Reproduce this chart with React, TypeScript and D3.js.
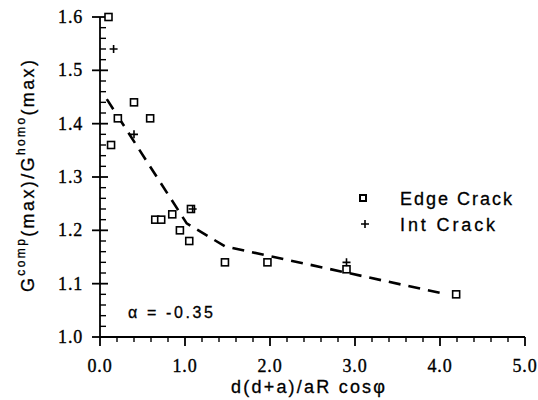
import React from 'react';
import * as d3 from 'd3';

// values
const edgeX = [0.1, 0.13, 0.21, 0.4, 0.59, 0.65, 0.72, 0.85, 0.94, 1.05, 1.07, 1.47, 1.97, 2.9, 4.19];
const edgeY = [1.6, 1.36, 1.41, 1.44, 1.41, 1.22, 1.22, 1.23, 1.2, 1.18, 1.24, 1.14, 1.14, 1.127, 1.08];
const intX = [0.16, 0.4, 1.09, 2.9];
const intY = [1.54, 1.38, 1.24, 1.14];
const fitX = [0.08, 1.02, 1.47, 4.02];
const fitY = [1.446, 1.213, 1.17, 1.082];
const xTicks = [0, 1, 2, 3, 4, 5];
const yTicks = [1.0, 1.1, 1.2, 1.3, 1.4, 1.5, 1.6];

const width = 538;
const height = 400;

export default function App() {
  const x = d3.scaleLinear().domain([0, 5]).range([100, 525]);
  const y = d3.scaleLinear().domain([1.0, 1.6]).range([337, 17]);

  const xMinor = d3.range(0, 5.001, 0.2).filter((v) => Math.abs(v - Math.round(v)) > 1e-6);
  const yMinor = d3.range(1.0, 1.6001, 0.02).filter((v) => Math.abs(v * 10 - Math.round(v * 10)) > 1e-6);

  const fit = fitX.map((v, i) => [v, fitY[i]] as [number, number]);
  const line = d3.line<[number, number]>().x((d) => x(d[0])).y((d) => y(d[1]));

  const serif = '"Liberation Serif", "Times New Roman", serif';
  const sans = '"Liberation Sans", Arial, sans-serif';

  return (
    <svg width={width} height={height} style={{ position: 'absolute', left: 0, top: 0, background: '#fff' }}>
      {/* axes */}
      <g stroke="#000" strokeWidth={1.8}>
        <line x1={x(0)} x2={x(0)} y1={y(1.0)} y2={y(1.6)} />
        <line x1={x(0)} x2={x(5)} y1={y(1.0)} y2={y(1.0)} />
        {yTicks.map((t) => (
          <line key={'ym' + t} x1={x(0) - 8} x2={x(0) + 8} y1={y(t)} y2={y(t)} />
        ))}
        {yMinor.map((t) => (
          <line key={'yn' + t} x1={x(0)} x2={x(0) + 6} y1={y(t)} y2={y(t)} strokeWidth={1.4} />
        ))}
        {xTicks.map((t) => (
          <line key={'xm' + t} x1={x(t)} x2={x(t)} y1={y(1.0)} y2={y(1.0) + 9} />
        ))}
        {xMinor.map((t) => (
          <line key={'xn' + t} x1={x(t)} x2={x(t)} y1={y(1.0)} y2={y(1.0) + 5} strokeWidth={1.4} />
        ))}
      </g>

      {/* tick labels */}
      <g fontFamily={serif} fontSize={18} fill="#000" stroke="#000" strokeWidth={0.35} letterSpacing={0.8}>
        {yTicks.map((t) => (
          <text key={'yl' + t} x={83} y={y(t) + 6} textAnchor="end">
            {t.toFixed(1)}
          </text>
        ))}
        {xTicks.map((t) => (
          <text key={'xl' + t} x={x(t)} y={372} textAnchor="middle">
            {t.toFixed(1)}
          </text>
        ))}
      </g>

      <g fontFamily={sans} fill="#000" stroke="#000" strokeWidth={0.3}>
        {/* axis titles */}
        <text x={231} y={393} fontSize={18} textLength={154} lengthAdjust="spacing">
          d(d+a)/aR cosφ
        </text>
        <text
          transform="translate(34,292) rotate(-90)"
          fontSize={18}
          textLength={232}
          lengthAdjust="spacing"
        >
          G<tspan fontSize={12} dy={-9}>comp</tspan>
          <tspan dy={9}>(max)/G</tspan>
          <tspan fontSize={12} dy={-9}>homo</tspan>
          <tspan dy={9}>(max)</tspan>
        </text>

        {/* legend text */}
        <text x={400} y={205} fontSize={18} textLength={112} lengthAdjust="spacing">Edge Crack</text>
        <text x={400} y={231} fontSize={18} textLength={95} lengthAdjust="spacing">Int  Crack</text>

        {/* annotation */}
        <text x={128} y={318} fontSize={16} textLength={85} lengthAdjust="spacing">
          α = -0.35
        </text>
      </g>

      {/* fitted dashed curve */}
      <path d={line(fit) || ''} fill="none" stroke="#000" strokeWidth={2.6} strokeDasharray="12,8" />

      {/* data */}
      {edgeX.map((v, i) => (
        <rect
          key={'e' + i}
          x={x(v) - 3.5}
          y={y(edgeY[i]) - 3.5}
          width={7}
          height={7}
          fill="#fff"
          stroke="#000"
          strokeWidth={1.6}
        />
      ))}
      {intX.map((v, i) => (
        <path
          key={'i' + i}
          d={`M${x(v) - 4},${y(intY[i])}H${x(v) + 4}M${x(v)},${y(intY[i]) - 4}V${y(intY[i]) + 4}`}
          stroke="#000"
          strokeWidth={1.6}
        />
      ))}

      {/* legend symbols */}
      <rect x={360} y={195} width={6} height={6} fill="#fff" stroke="#000" strokeWidth={2} />
      <path d="M361,224H369M365,220V228" stroke="#000" strokeWidth={1.6} />
    </svg>
  );
}
